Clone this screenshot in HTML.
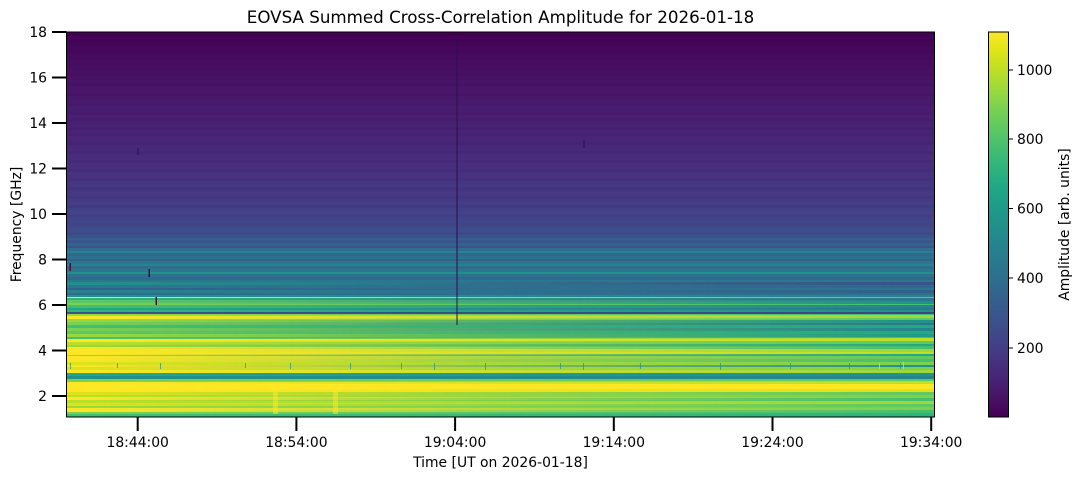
<!DOCTYPE html>
<html><head><meta charset="utf-8"><style>
html,body{margin:0;padding:0;background:#fff;}
svg{display:block;}
text{font-family:"DejaVu Sans","Liberation Sans",sans-serif;fill:#000;}
</style></head><body>
<svg width="1081" height="479" viewBox="0 0 1081 479" xmlns="http://www.w3.org/2000/svg">
<defs>
<linearGradient id="fade" x1="67" x2="934" y1="0" y2="0" gradientUnits="userSpaceOnUse">
<stop offset="0" stop-color="#fff"/><stop offset="0.25" stop-color="#c0c0c0"/><stop offset="0.5" stop-color="#737373"/><stop offset="1" stop-color="#000"/>
</linearGradient>
<mask id="m"><rect x="67" y="240" width="867" height="177" fill="url(#fade)"/></mask>
<linearGradient id="vir" x1="0" y1="1" x2="0" y2="0">
<stop offset="0" stop-color="#440154"/><stop offset="0.05" stop-color="#471365"/><stop offset="0.1" stop-color="#482475"/><stop offset="0.15" stop-color="#463480"/><stop offset="0.2" stop-color="#414487"/><stop offset="0.25" stop-color="#3b528b"/><stop offset="0.3" stop-color="#355f8d"/><stop offset="0.35" stop-color="#2f6c8e"/><stop offset="0.4" stop-color="#2a788e"/><stop offset="0.45" stop-color="#25848e"/><stop offset="0.5" stop-color="#21918c"/><stop offset="0.55" stop-color="#1e9c89"/><stop offset="0.6" stop-color="#22a884"/><stop offset="0.65" stop-color="#2fb47c"/><stop offset="0.7" stop-color="#44bf70"/><stop offset="0.75" stop-color="#5ec962"/><stop offset="0.8" stop-color="#7ad151"/><stop offset="0.85" stop-color="#9bd93c"/><stop offset="0.9" stop-color="#bddf26"/><stop offset="0.95" stop-color="#dfe318"/><stop offset="1" stop-color="#fde725"/>
</linearGradient>
</defs>
<rect width="1081" height="479" fill="#fff"/>
<text x="500.5" y="23" font-size="16.7" text-anchor="middle">EOVSA Summed Cross-Correlation Amplitude for 2026-01-18</text>

<g shape-rendering="crispEdges">
<rect x="67" y="32" width="867" height="4" fill="#440154"/>
<rect x="67" y="36" width="867" height="3" fill="#45045a"/>
<rect x="67" y="39" width="867" height="3" fill="#440256"/>
<rect x="67" y="42" width="867" height="4" fill="#45065a"/>
<rect x="67" y="46" width="867" height="3" fill="#46085c"/>
<rect x="67" y="49" width="867" height="4" fill="#45075b"/>
<rect x="67" y="53" width="867" height="3" fill="#460a5d"/>
<rect x="67" y="56" width="867" height="4" fill="#460b5e"/>
<rect x="67" y="60" width="867" height="3" fill="#470d60"/>
<rect x="67" y="63" width="867" height="3" fill="#460c5f"/>
<rect x="67" y="66" width="867" height="4" fill="#470f62"/>
<rect x="67" y="70" width="867" height="3" fill="#471063"/>
<rect x="67" y="73" width="867" height="3" fill="#470e61"/>
<rect x="67" y="76" width="867" height="4" fill="#471164"/>
<rect x="67" y="80" width="867" height="3" fill="#481467"/>
<rect x="67" y="83" width="867" height="3" fill="#471265"/>
<rect x="67" y="86" width="867" height="4" fill="#481668"/>
<rect x="67" y="90" width="867" height="3" fill="#481769"/>
<rect x="67" y="93" width="867" height="3" fill="#481467"/>
<rect x="67" y="96" width="867" height="4" fill="#48186a"/>
<rect x="67" y="100" width="867" height="3" fill="#481a6c"/>
<rect x="67" y="103" width="867" height="3" fill="#48186a"/>
<rect x="67" y="106" width="867" height="4" fill="#481c6e"/>
<rect x="67" y="110" width="867" height="2" fill="#481d6f"/>
<rect x="67" y="112" width="867" height="3" fill="#481b6d"/>
<rect x="67" y="115" width="867" height="3" fill="#482071"/>
<rect x="67" y="118" width="867" height="3" fill="#481d6f"/>
<rect x="67" y="121" width="867" height="3" fill="#482173"/>
<rect x="67" y="124" width="867" height="3" fill="#482374"/>
<rect x="67" y="127" width="867" height="3" fill="#481f70"/>
<rect x="67" y="130" width="867" height="3" fill="#482475"/>
<rect x="67" y="133" width="867" height="3" fill="#482173"/>
<rect x="67" y="136" width="867" height="3" fill="#482576"/>
<rect x="67" y="139" width="867" height="3" fill="#482677"/>
<rect x="67" y="142" width="867" height="3" fill="#472374"/>
<rect x="67" y="145" width="867" height="3" fill="#482878"/>
<rect x="67" y="148" width="867" height="3" fill="#472a7a"/>
<rect x="67" y="151" width="867" height="3" fill="#482576"/>
<rect x="67" y="154" width="867" height="3" fill="#472c7a"/>
<rect x="67" y="157" width="867" height="3" fill="#472d7b"/>
<rect x="67" y="160" width="867" height="3" fill="#472a79"/>
<rect x="67" y="163" width="867" height="3" fill="#472f7d"/>
<rect x="67" y="166" width="867" height="3" fill="#46307e"/>
<rect x="67" y="169" width="867" height="3" fill="#472c7a"/>
<rect x="67" y="172" width="867" height="3" fill="#46327e"/>
<rect x="67" y="175" width="867" height="3" fill="#46337f"/>
<rect x="67" y="178" width="867" height="3" fill="#462f7e"/>
<rect x="67" y="181" width="867" height="3" fill="#453581"/>
<rect x="67" y="184" width="867" height="3" fill="#453882"/>
<rect x="67" y="187" width="867" height="3" fill="#46337f"/>
<rect x="67" y="190" width="867" height="3" fill="#453781"/>
<rect x="67" y="193" width="867" height="3" fill="#443a83"/>
<rect x="67" y="196" width="867" height="3" fill="#453581"/>
<rect x="67" y="199" width="867" height="3" fill="#443b84"/>
<rect x="67" y="202" width="867" height="3" fill="#433e85"/>
<rect x="67" y="205" width="867" height="3" fill="#443983"/>
<rect x="67" y="208" width="867" height="3" fill="#424086"/>
<rect x="67" y="211" width="867" height="3" fill="#414487"/>
<rect x="67" y="214" width="867" height="3" fill="#433e85"/>
<rect x="67" y="217" width="867" height="3" fill="#414287"/>
<rect x="67" y="220" width="867" height="3" fill="#3f4788"/>
<rect x="67" y="223" width="867" height="3" fill="#414487"/>
<rect x="67" y="226" width="867" height="3" fill="#3e4a89"/>
<rect x="67" y="229" width="867" height="3" fill="#3c4f8a"/>
<rect x="67" y="232" width="867" height="3" fill="#3e4989"/>
<rect x="67" y="235" width="867" height="3" fill="#3b528b"/>
<rect x="67" y="238" width="867" height="2" fill="#355f8d"/>
<rect x="67" y="240" width="867" height="3" fill="#39568c"/>
<rect x="67" y="243" width="867" height="3" fill="#33638d"/>
<rect x="67" y="246" width="867" height="2" fill="#3b528b"/>
<rect x="67" y="248" width="867" height="3" fill="#2f6c8e"/>
<rect x="67" y="251" width="867" height="2" fill="#26828e"/>
<rect x="67" y="253" width="867" height="3" fill="#31688e"/>
<rect x="67" y="256" width="867" height="3" fill="#2c718e"/>
<rect x="67" y="259" width="867" height="2" fill="#355f8d"/>
<rect x="67" y="261" width="867" height="3" fill="#2a788e"/>
<rect x="67" y="264" width="867" height="2" fill="#25848e"/>
<rect x="67" y="266" width="867" height="3" fill="#2f6c8e"/>
<rect x="67" y="269" width="867" height="3" fill="#2a788e"/>
<rect x="67" y="272" width="867" height="2" fill="#21918c"/>
<rect x="67" y="274" width="867" height="3" fill="#2c718e"/>
<rect x="67" y="277" width="867" height="3" fill="#31688e"/>
<rect x="67" y="280" width="867" height="2" fill="#2a788e"/>

<rect x="67" y="282" width="867" height="3" fill="#3b528b"/>
<rect x="67" y="285" width="867" height="3" fill="#31688e"/>
<rect x="67" y="288" width="867" height="2" fill="#2a788e"/>
<rect x="67" y="290" width="867" height="3" fill="#355f8d"/>
<rect x="67" y="293" width="867" height="2" fill="#2c718e"/>
<rect x="67" y="295" width="867" height="2" fill="#25848e"/>
<rect x="67" y="297" width="867" height="1" fill="#5ec962"/>
<rect x="67" y="298" width="867" height="3" fill="#2a788e"/>
<rect x="67" y="301" width="867" height="3" fill="#21918c"/>
<rect x="67" y="304" width="867" height="1" fill="#44bf70"/>
<rect x="67" y="305" width="867" height="3" fill="#25848e"/>
<rect x="67" y="308" width="867" height="2" fill="#2a788e"/>
<rect x="67" y="310" width="867" height="2" fill="#21918c"/>
<rect x="67" y="312" width="867" height="2" fill="#414487"/>
<rect x="67" y="314" width="867" height="1" fill="#44bf70"/>
<rect x="67" y="315" width="867" height="3" fill="#9bd93c"/>
<rect x="67" y="318" width="867" height="2" fill="#5ec962"/>
<rect x="67" y="320" width="867" height="3" fill="#21918c"/>
<rect x="67" y="323" width="867" height="2" fill="#2a788e"/>
<rect x="67" y="325" width="867" height="3" fill="#22a884"/>
<rect x="67" y="328" width="867" height="3" fill="#25848e"/>
<rect x="67" y="331" width="867" height="3" fill="#22a884"/>
<rect x="67" y="334" width="867" height="3" fill="#1e9c89"/>
<rect x="67" y="337" width="867" height="1" fill="#44bf70"/>
<rect x="67" y="338" width="867" height="3" fill="#bddf26"/>
<rect x="67" y="341" width="867" height="3" fill="#5ec962"/>
<rect x="67" y="344" width="867" height="2" fill="#22a884"/>
<rect x="67" y="346" width="867" height="3" fill="#44bf70"/>
<rect x="67" y="349" width="867" height="3" fill="#9bd93c"/>
<rect x="67" y="352" width="867" height="2" fill="#bddf26"/>
<rect x="67" y="354" width="867" height="2" fill="#22a884"/>
<rect x="67" y="356" width="867" height="3" fill="#5ec962"/>
<rect x="67" y="359" width="867" height="3" fill="#44bf70"/>
<rect x="67" y="362" width="867" height="3" fill="#7ad151"/>
<rect x="67" y="365" width="867" height="2" fill="#21918c"/>
<rect x="67" y="367" width="867" height="3" fill="#7ad151"/>
<rect x="67" y="370" width="867" height="3" fill="#9bd93c"/>
<rect x="67" y="373" width="867" height="3" fill="#21918c"/>
<rect x="67" y="376" width="867" height="3" fill="#25848e"/>
<rect x="67" y="379" width="867" height="2" fill="#5ec962"/>
<rect x="67" y="381" width="867" height="3" fill="#bddf26"/>
<rect x="67" y="384" width="867" height="5" fill="#fde725"/>
<rect x="67" y="389" width="867" height="3" fill="#dfe318"/>
<rect x="67" y="392" width="867" height="3" fill="#5ec962"/>
<rect x="67" y="395" width="867" height="3" fill="#7ad151"/>
<rect x="67" y="398" width="867" height="3" fill="#44bf70"/>
<rect x="67" y="401" width="867" height="3" fill="#9bd93c"/>
<rect x="67" y="404" width="867" height="3" fill="#5ec962"/>
<rect x="67" y="407" width="867" height="3" fill="#7ad151"/>
<rect x="67" y="410" width="867" height="3" fill="#44bf70"/>
<rect x="67" y="413" width="867" height="4" fill="#2fb47c"/>

<g mask="url(#m)">
<rect x="67" y="282" width="867" height="3" fill="#21918c"/>
<rect x="67" y="285" width="867" height="3" fill="#2a788e"/>
<rect x="67" y="288" width="867" height="2" fill="#355f8d"/>
<rect x="67" y="290" width="867" height="3" fill="#25848e"/>
<rect x="67" y="293" width="867" height="2" fill="#2f6c8e"/>
<rect x="67" y="295" width="867" height="2" fill="#21918c"/>
<rect x="67" y="297" width="867" height="1" fill="#fde725"/>
<rect x="67" y="298" width="867" height="2" fill="#2fb47c"/>
<rect x="67" y="300" width="867" height="3" fill="#5ec962"/>
<rect x="67" y="303" width="867" height="2" fill="#7ad151"/>
<rect x="67" y="305" width="867" height="3" fill="#44bf70"/>
<rect x="67" y="308" width="867" height="2" fill="#22a884"/>
<rect x="67" y="310" width="867" height="2" fill="#2fb47c"/>
<rect x="67" y="312" width="867" height="2" fill="#3b528b"/>
<rect x="67" y="314" width="867" height="2" fill="#9bd93c"/>
<rect x="67" y="316" width="867" height="3" fill="#fde725"/>
<rect x="67" y="319" width="867" height="3" fill="#9bd93c"/>
<rect x="67" y="322" width="867" height="3" fill="#7ad151"/>
<rect x="67" y="325" width="867" height="3" fill="#44bf70"/>
<rect x="67" y="328" width="867" height="3" fill="#7ad151"/>
<rect x="67" y="331" width="867" height="3" fill="#5ec962"/>
<rect x="67" y="334" width="867" height="3" fill="#9bd93c"/>
<rect x="67" y="337" width="867" height="2" fill="#44bf70"/>
<rect x="67" y="339" width="867" height="3" fill="#fde725"/>
<rect x="67" y="342" width="867" height="3" fill="#bddf26"/>
<rect x="67" y="345" width="867" height="2" fill="#9bd93c"/>
<rect x="67" y="347" width="867" height="8" fill="#fde725"/>
<rect x="67" y="355" width="867" height="1" fill="#9bd93c"/>
<rect x="67" y="356" width="867" height="6" fill="#fde725"/>
<rect x="67" y="362" width="867" height="3" fill="#dfe318"/>
<rect x="67" y="365" width="867" height="2" fill="#fde725"/>
<rect x="67" y="367" width="867" height="3" fill="#dfe318"/>
<rect x="67" y="370" width="867" height="3" fill="#fde725"/>
<rect x="67" y="373" width="867" height="3" fill="#22a884"/>
<rect x="67" y="376" width="867" height="3" fill="#21918c"/>
<rect x="67" y="379" width="867" height="3" fill="#7ad151"/>
<rect x="67" y="382" width="867" height="10" fill="#fde725"/>
<rect x="67" y="392" width="867" height="3" fill="#dfe318"/>
<rect x="67" y="395" width="867" height="2" fill="#bddf26"/>
<rect x="67" y="397" width="867" height="3" fill="#fde725"/>
<rect x="67" y="400" width="867" height="3" fill="#bddf26"/>
<rect x="67" y="403" width="867" height="3" fill="#dfe318"/>
<rect x="67" y="406" width="867" height="2" fill="#9bd93c"/>
<rect x="67" y="408" width="867" height="4" fill="#fde725"/>
<rect x="67" y="412" width="867" height="2" fill="#7ad151"/>
<rect x="67" y="414" width="867" height="3" fill="#44bf70"/>
</g>

<rect x="273" y="388" width="5" height="26" fill="#fde725" opacity="0.55"/>
<rect x="333" y="388" width="5" height="26" fill="#fde725" opacity="0.55"/>

<g fill="#21918c" opacity="0.7">
<rect x="70" y="363" width="1" height="6"/><rect x="117" y="363" width="1" height="5"/>
<rect x="160" y="363" width="1" height="6"/><rect x="245" y="363" width="1" height="5"/><rect x="290" y="363" width="1" height="6"/>
<rect x="350" y="363" width="1" height="6"/><rect x="401" y="363" width="1" height="6"/>
<rect x="434" y="363" width="1" height="7"/><rect x="485" y="363" width="1" height="7"/>
<rect x="560" y="363" width="1" height="6"/><rect x="583" y="363" width="1" height="7"/>
<rect x="640" y="363" width="1" height="6"/><rect x="720" y="363" width="1" height="7"/><rect x="790" y="363" width="1" height="6"/>
<rect x="849" y="363" width="1" height="6"/><rect x="900" y="363" width="1" height="6"/>
</g>
<g fill="#dfe318" opacity="0.8">
<rect x="879" y="363" width="1" height="6"/><rect x="903" y="362" width="1" height="7"/>
</g>

<rect x="456.5" y="36" width="1" height="289" fill="#2a0f4e"/>
<rect x="137.5" y="148" width="1" height="7" fill="#2a0a40"/>
<rect x="583.5" y="140" width="1" height="8" fill="#2a0a40"/>
<rect x="69.5" y="263" width="1.5" height="8" fill="#4a0f3a"/>
<rect x="148.5" y="269" width="1.5" height="8" fill="#2a0a40"/>
<rect x="155.5" y="297" width="1.5" height="8" fill="#4a0f3a"/>
</g>

<rect x="66.5" y="32" width="868" height="385" fill="none" stroke="#000" stroke-width="1"/>

<g stroke="#000" stroke-width="2">
<line x1="52" y1="32" x2="66.5" y2="32"/><line x1="52" y1="77.5" x2="66.5" y2="77.5"/><line x1="52" y1="123" x2="66.5" y2="123"/>
<line x1="52" y1="168.5" x2="66.5" y2="168.5"/><line x1="52" y1="214" x2="66.5" y2="214"/><line x1="52" y1="259.5" x2="66.5" y2="259.5"/>
<line x1="52" y1="305" x2="66.5" y2="305"/><line x1="52" y1="350.5" x2="66.5" y2="350.5"/><line x1="52" y1="396" x2="66.5" y2="396"/>
</g>
<g font-size="13.9" text-anchor="end">
<text x="47" y="37">18</text><text x="47" y="82.5">16</text><text x="47" y="128">14</text><text x="47" y="173.5">12</text>
<text x="47" y="219">10</text><text x="47" y="264.5">8</text><text x="47" y="310">6</text><text x="47" y="355.5">4</text><text x="47" y="401">2</text>
</g>
<text transform="translate(21,224.5) rotate(-90)" font-size="13.9" text-anchor="middle">Frequency [GHz]</text>

<g stroke="#000" stroke-width="2">
<line x1="137.7" y1="417" x2="137.7" y2="431"/><line x1="296.4" y1="417" x2="296.4" y2="431"/><line x1="455.1" y1="417" x2="455.1" y2="431"/>
<line x1="613.8" y1="417" x2="613.8" y2="431"/><line x1="772.5" y1="417" x2="772.5" y2="431"/><line x1="931.2" y1="417" x2="931.2" y2="431"/>
</g>
<g font-size="13.9" text-anchor="middle">
<text x="137.7" y="447">18:44:00</text><text x="296.4" y="447">18:54:00</text><text x="455.1" y="447">19:04:00</text>
<text x="613.8" y="447">19:14:00</text><text x="772.5" y="447">19:24:00</text><text x="931.2" y="447">19:34:00</text>
</g>
<text x="500.5" y="467" font-size="13.9" text-anchor="middle">Time [UT on 2026-01-18]</text>

<rect x="988.5" y="32" width="20" height="385" fill="url(#vir)"/>
<rect x="988.5" y="32" width="20" height="385" fill="none" stroke="#000" stroke-width="1"/>
<g stroke="#000" stroke-width="1">
<line x1="1008.5" y1="70" x2="1013" y2="70"/><line x1="1008.5" y1="139" x2="1013" y2="139"/><line x1="1008.5" y1="208.5" x2="1013" y2="208.5"/>
<line x1="1008.5" y1="278" x2="1013" y2="278"/><line x1="1008.5" y1="348" x2="1013" y2="348"/>
</g>
<g font-size="13.9">
<text x="1017" y="75">1000</text><text x="1017" y="144">800</text><text x="1017" y="213.5">600</text><text x="1017" y="283">400</text><text x="1017" y="353">200</text>
</g>
<text transform="translate(1069,224.5) rotate(-90)" font-size="13.9" text-anchor="middle">Amplitude [arb. units]</text>
</svg>
</body></html>
